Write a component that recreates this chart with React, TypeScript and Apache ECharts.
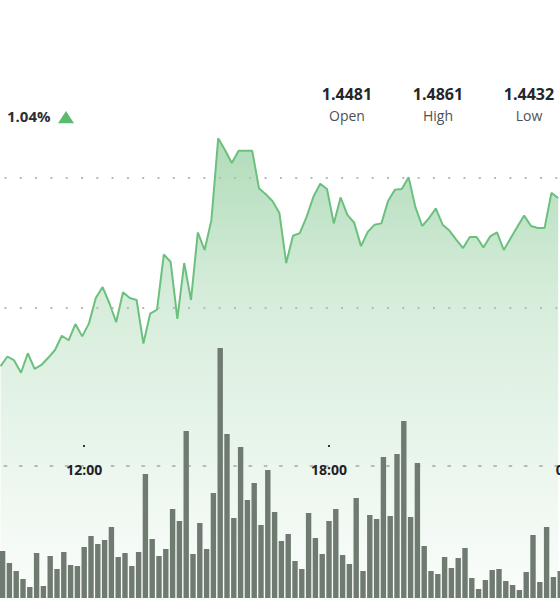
import React, { useEffect, useRef } from 'react';
import * as echarts from 'echarts';

const times = [
  '10:00', '10:10', '10:20', '10:30', '10:40', '10:50',
  '11:00', '11:10', '11:20', '11:30', '11:40', '11:50',
  '12:00', '12:10', '12:20', '12:30', '12:40', '12:50',
  '13:00', '13:10', '13:20', '13:30', '13:40', '13:50',
  '14:00', '14:10', '14:20', '14:30', '14:40', '14:50',
  '15:00', '15:10', '15:20', '15:30', '15:40', '15:50',
  '16:00', '16:10', '16:20', '16:30', '16:40', '16:50',
  '17:00', '17:10', '17:20', '17:30', '17:40', '17:50',
  '18:00', '18:10', '18:20', '18:30', '18:40', '18:50',
  '19:00', '19:10', '19:20', '19:30', '19:40', '19:50',
  '20:00', '20:10', '20:20', '20:30', '20:40', '20:50',
  '21:00', '21:10', '21:20', '21:30', '21:40', '21:50',
  '22:00', '22:10', '22:20', '22:30', '22:40', '22:50',
  '23:00', '23:10', '23:20', '23:30', '23:40', '23:50',
  '00:00',
];

const shownTimes = ['12:00', '18:00', '00:00'];

const prices = [
  1.4510, 1.4525, 1.4519, 1.4500, 1.4530, 1.4506, 1.4512, 1.4523, 1.4535, 1.4557,
  1.4550, 1.4575, 1.4556, 1.4576, 1.4615, 1.4632, 1.4607, 1.4578, 1.4624, 1.4615,
  1.4612, 1.4545, 1.4591, 1.4597, 1.4682, 1.4671, 1.4583, 1.4669, 1.4612, 1.4716,
  1.4689, 1.4735, 1.4861, 1.4843, 1.4823, 1.4842, 1.4842, 1.4842, 1.4784, 1.4775,
  1.4764, 1.4746, 1.4669, 1.4711, 1.4715, 1.4740, 1.4771, 1.4791, 1.4783, 1.4730,
  1.4770, 1.4743, 1.4731, 1.4695, 1.4717, 1.4728, 1.4730, 1.4765, 1.4782, 1.4783,
  1.4801, 1.4755, 1.4726, 1.4738, 1.4753, 1.4728, 1.4719, 1.4705, 1.4692, 1.4709,
  1.4709, 1.4693, 1.4710, 1.4716, 1.4689, 1.4707, 1.4725, 1.4742, 1.4726, 1.4723,
  1.4723, 1.4777, 1.4769,
];

const volumes = [
  188, 140, 108, 76, 44, 180, 48, 168, 116, 184,
  132, 128, 204, 248, 216, 232, 284, 164, 180, 128,
  184, 496, 236, 168, 196, 356, 308, 668, 176, 300,
  196, 420, 1000, 656, 320, 604, 392, 460, 292, 512,
  344, 228, 256, 148, 116, 340, 240, 176, 308, 356,
  172, 136, 400, 108, 332, 316, 564, 328, 576, 708,
  324, 540, 208, 108, 96, 164, 120, 160, 200, 80,
  36, 72, 112, 116, 68, 52, 32, 104, 252, 64,
  284, 84, 108,
];

const priceLevels = [1.46, 1.48];
const changePct = '1.04%';
const statValues = ['1.4481', '1.4861', '1.4432'];
const statLabels = ['Open', 'High', 'Low'];

export default function App() {
  const ref = useRef<HTMLDivElement>(null);

  useEffect(() => {
    const chart = echarts.init(ref.current as HTMLDivElement, null, { renderer: 'svg' });
    const FONT = '"Open Sans", "Noto Sans", sans-serif';
    const statX = [347, 438, 529];
    const showLabel = (index: number, value: string) => shownTimes.indexOf(value) >= 0;

    const graphic: any[] = [
      {
        type: 'text',
        x: 7,
        y: 116,
        style: {
          text: changePct,
          font: 'bold 15px ' + FONT,
          fill: '#2b2f35',
          align: 'left',
          textAlign: 'left',
          verticalAlign: 'middle',
          textVerticalAlign: 'middle',
        },
      },
      {
        type: 'polygon',
        shape: { points: [[58, 123.3], [66, 111], [74, 123.3]] },
        style: { fill: '#5cbb6f' },
      },
    ];
    statValues.forEach((v, i) => {
      graphic.push({
        type: 'text',
        x: statX[i],
        y: 94,
        style: {
          text: v,
          font: 'bold 16px ' + FONT,
          fill: '#23272c',
          align: 'center',
          textAlign: 'center',
          verticalAlign: 'middle',
          textVerticalAlign: 'middle',
        },
      });
      graphic.push({
        type: 'text',
        x: statX[i],
        y: 115,
        style: {
          text: statLabels[i],
          font: '14px ' + FONT,
          fill: '#4d5258',
          align: 'center',
          textAlign: 'center',
          verticalAlign: 'middle',
          textVerticalAlign: 'middle',
        },
      });
    });

    chart.setOption({
      animation: false,
      grid: [
        { left: -0.8, width: 578, top: 348, bottom: 2, outerBoundsMode: 'none', containLabel: false },
        { left: -2.8, width: 578, top: 113, bottom: 0, outerBoundsMode: 'none', containLabel: false },
        { left: -0.8, width: 578, top: 466, height: 10, outerBoundsMode: 'none', containLabel: false },
      ],
      xAxis: [
        { type: 'category', gridIndex: 0, data: times, show: false },
        { type: 'category', gridIndex: 1, data: times, show: false },
        {
          type: 'category',
          gridIndex: 2,
          data: times,
          position: 'top',
          z: 2,
          axisLine: {
            show: true,
            onZero: false,
            lineStyle: { color: '#b7bab7', width: 2, type: [2, 13.3], dashOffset: 9.5 },
          },
          axisTick: {
            show: true,
            alignWithLabel: true,
            length: 21,
            interval: showLabel,
            lineStyle: { color: '#333', width: 2, type: [0, 19, 2, 100] },
          },
          axisLabel: {
            inside: true,
            margin: 3,
            interval: showLabel,
            verticalAlign: 'middle',
            fontFamily: FONT,
            fontWeight: 'bold',
            fontSize: 14,
            color: '#1f2328',
          },
          splitLine: { show: false },
        },
      ],
      yAxis: [
        { type: 'value', gridIndex: 0, min: 0, max: 1000, show: false },
        { type: 'value', gridIndex: 1, min: 1.415, max: 1.49, show: false },
        { type: 'value', gridIndex: 2, min: 0, max: 1, show: false },
      ],
      series: [
        {
          type: 'line',
          xAxisIndex: 1,
          yAxisIndex: 1,
          data: prices,
          symbol: 'none',
          z: 1,
          lineStyle: { color: '#6cc07e', width: 2 },
          areaStyle: {
            origin: 'start',
            color: new echarts.graphic.LinearGradient(0, 0, 0, 1, [
              { offset: 0, color: 'rgba(76,175,96,0.62)' },
              { offset: 0.35, color: 'rgba(76,175,96,0.32)' },
              { offset: 1, color: 'rgba(76,175,96,0.03)' },
            ]),
          },
          markLine: {
            silent: true,
            symbol: ['none', 'none'],
            label: { show: false },
            lineStyle: { color: '#b7bab7', width: 2, type: [2, 13.3], dashOffset: 7.5 },
            emphasis: { disabled: true },
            data: priceLevels.map((v) => ({ yAxis: v })),
          },
        },
        {
          type: 'bar',
          xAxisIndex: 0,
          yAxisIndex: 0,
          data: volumes,
          barWidth: 5.4,
          z: 3,
          itemStyle: { color: '#6f7a70' },
        },
      ],
      graphic,
    });

    return () => chart.dispose();
  }, []);

  return (
    <div
      ref={ref}
      style={{ position: 'fixed', left: 0, top: 0, width: 560, height: 600, background: '#fff' }}
    />
  );
}
